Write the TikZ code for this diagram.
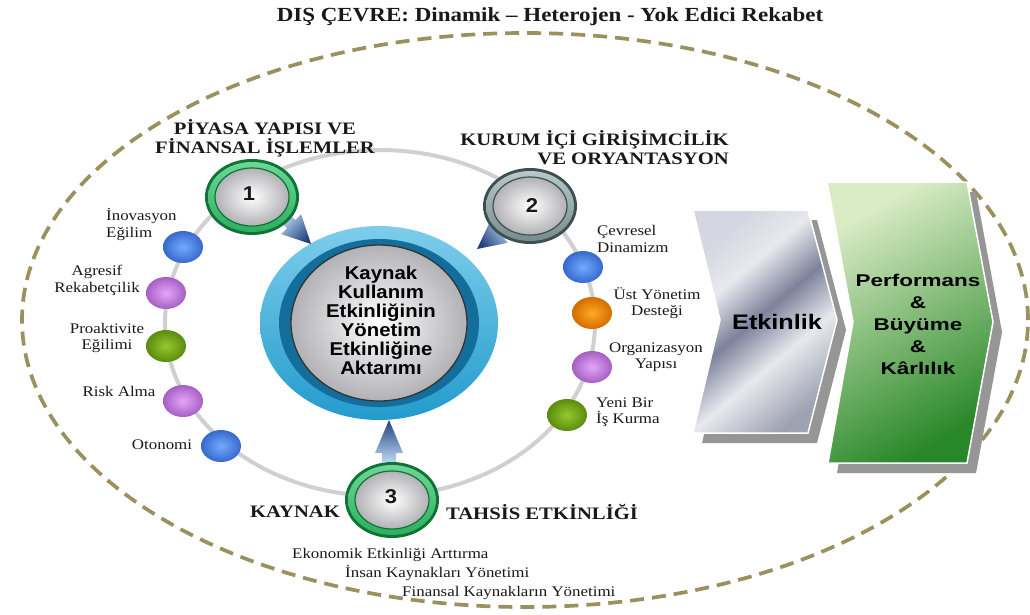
\documentclass[tikz,border=0pt]{standalone}
\usepackage{fontspec}
\setmainfont{Liberation Serif}
\newfontfamily\serifS[FakeStretch=1.15]{Liberation Serif}
\newfontfamily\serifH[FakeStretch=1.18]{Liberation Serif}
\newfontfamily\sansS[FakeStretch=1.10]{Liberation Sans}
\newfontfamily\sansW[FakeStretch=1.2]{Liberation Sans}
\newfontfamily\sansX[FakeStretch=1.32]{Liberation Sans}
\usetikzlibrary{shapes.geometric,calc}
\definecolor{envc}{RGB}{155,145,95}
\definecolor{trackc}{RGB}{208,208,208}
\definecolor{cOut}{RGB}{35,155,205}
\definecolor{cOutL}{RGB}{125,205,235}
\definecolor{cDark}{RGB}{20,110,155}
\definecolor{sphD}{RGB}{178,178,182}
\definecolor{gOut}{RGB}{15,115,55}
\definecolor{gIn}{RGB}{45,175,95}
\definecolor{gInL}{RGB}{110,215,150}
\definecolor{sOut}{RGB}{60,80,82}
\definecolor{sIn}{RGB}{120,140,140}
\definecolor{sInL}{RGB}{185,200,200}
\definecolor{arrD}{RGB}{35,65,125}
\definecolor{arrL}{RGB}{185,215,240}
\definecolor{bBlue}{RGB}{55,105,205}
\definecolor{bBlueL}{RGB}{115,170,255}
\definecolor{bPur}{RGB}{165,95,195}
\definecolor{bPurL}{RGB}{230,165,250}
\definecolor{bGrn}{RGB}{90,140,15}
\definecolor{bGrnL}{RGB}{150,200,45}
\definecolor{bOra}{RGB}{210,110,0}
\definecolor{bOraL}{RGB}{255,170,35}
\definecolor{mL}{RGB}{232,233,238}
\definecolor{mS}{RGB}{212,215,225}
\definecolor{mB}{RGB}{125,130,155}
\definecolor{mD}{RGB}{158,162,178}
\definecolor{grnL}{RGB}{218,236,198}
\definecolor{grnD}{RGB}{40,135,40}
\definecolor{shadowc}{RGB}{150,150,150}
\definecolor{txt}{RGB}{25,25,25}
\pgfdeclareverticalshading{metal}{100bp}{color(0bp)=(mD); color(25bp)=(mD); color(40bp)=(mL); color(52bp)=(mB); color(64bp)=(mL); color(75bp)=(mS); color(100bp)=(mS)}
\tikzset{
  envline/.style={draw=envc, line width=3.7pt, dash pattern=on 14pt off 8pt},
  trackline/.style={draw=trackc, line width=4pt},
  bead/.style={ellipse, minimum width=40pt, minimum height=32pt, inner sep=0pt},
  bblue/.style={bead, inner color=bBlueL, outer color=bBlue},
  bpur/.style={bead, inner color=bPurL, outer color=bPur},
  bgrn/.style={bead, inner color=bGrnL, outer color=bGrn},
  bora/.style={bead, inner color=bOraL, outer color=bOra},
  lbl/.style={font=\serifS\fontsize{14.7}{16.5}\selectfont, align=center, inner sep=0pt, text=txt},
  hdr/.style={font=\serifH\bfseries\fontsize{17.5}{19}\selectfont, inner sep=0pt, text=txt},
  ctext/.style={font=\sansS\bfseries\fontsize{18.5}{19}\selectfont, align=center, inner sep=0pt, text=black},
  numtxt/.style={font=\sansS\bfseries\fontsize{20}{20}\selectfont, inner sep=0pt, text=txt},
  chevshadow/.style={fill=shadowc},
  arrowfill/.style={top color=arrD, bottom color=arrL},
  pics/ringnode/.style n args={3}{code={
    \fill[#1] (0,0) ellipse [x radius=47, y radius=38];
    \shade[top color=#3, bottom color=#2] (0,0) ellipse [x radius=44, y radius=35];
    \shade[inner color=white, outer color=sphD, draw=#1, line width=1.2pt] (0,0) ellipse [x radius=37, y radius=29];
  }},
}
\begin{document}
\begin{tikzpicture}[x=1pt,y=1pt]
\useasboundingbox (0,0) rectangle (1030,-614);
\fill[white] (0,0) rectangle (1030,-614);

% title
\node[font=\serifS\bfseries\fontsize{20}{24}\selectfont, inner sep=0pt, text=txt] (title) at (550,-17) {DIŞ ÇEVRE: Dinamik – Heterojen - Yok Edici Rekabet};

% environment ellipse
\draw[envline] (525,-320) ellipse [x radius=503, y radius=287];

% track
\draw[trackline] (380,-323) ellipse [x radius=215, y radius=173];

% chevrons
\fill[chevshadow] (702,-220) -- (817,-220) -- (846,-330) -- (817,-443) -- (702,-443) -- (729,-330) -- cycle;
\shade[shading=metal, shading angle=40, draw=white, line width=1.5pt] (693,-210) -- (808,-210) -- (837,-320) -- (808,-433) -- (693,-433) -- (720,-320) -- cycle;
\fill[chevshadow] (836,-192) -- (976,-192) -- (1002,-332) -- (976,-473) -- (837,-473) -- (862,-332) -- cycle;
\shade[top color=grnL, bottom color=grnD, shading angle=30, draw=white, line width=1.5pt] (827,-182) -- (967,-182) -- (993,-322) -- (967,-463) -- (828,-463) -- (853,-322) -- cycle;
\node[font=\sansW\bfseries\fontsize{21}{22}\selectfont, inner sep=0pt, text=black] (etk) at (777,-322) {Etkinlik};
\node[font=\sansX\bfseries\fontsize{17}{22}\selectfont, align=center, inner sep=0pt, text=black] (perf) at (918,-324) {Performans\\\&\\Büyüme\\\&\\Kârlılık};

% centre
\coordinate (pc) at (379,-323);
\shade[top color=cOutL, bottom color=cOut] (pc) ellipse [x radius=119, y radius=97];
\fill[cDark] (pc) ellipse [x radius=100, y radius=84];
\shade[inner color=white, outer color=sphD, draw=black!80, line width=1.3pt] (pc) ellipse [x radius=88, y radius=78];
\node[ctext] (c) at (381,-320) {Kaynak\\Kullanım\\Etkinliğinin\\Yönetim\\Etkinliğine\\Aktarımı};

% arrows towards centre
\begin{scope}[shift={(311,-244)}, rotate=-45]
\shade[arrowfill, shading angle=-135] (0,0) -- (-28,14) -- (-28,6) -- (-38,6) -- (-38,-6) -- (-28,-6) -- (-28,-14) -- cycle;
\end{scope}
\begin{scope}[shift={(477,-249)}, rotate=-142]
\shade[arrowfill, shading angle=128] (0,0) -- (-28,14) -- (-28,6) -- (-38,6) -- (-38,-6) -- (-28,-6) -- (-28,-14) -- cycle;
\end{scope}
\begin{scope}[shift={(389,-420)}, rotate=90]
\shade[arrowfill, shading angle=0] (0,0) -- (-33,14) -- (-33,7) -- (-42,7) -- (-42,-7) -- (-33,-7) -- (-33,-14) -- cycle;
\end{scope}

% numbered nodes
\coordinate (p1) at (252,-197);
\coordinate (p2) at (530,-206);
\coordinate (p3) at (392,-500);
\pic at (p1) {ringnode={gOut}{gIn}{gInL}};
\pic at (p2) {ringnode={sOut}{sIn}{sInL}};
\pic at (p3) {ringnode={gOut}{gIn}{gInL}};
\node[numtxt] (n1) at (249,-194) {1};
\node[numtxt] (n2) at (532,-206) {2};
\node[numtxt] (n3) at (391,-497) {3};

% headers
\node[hdr, align=center] (h1) at (265,-138) {PİYASA YAPISI VE\\FİNANSAL İŞLEMLER};
\node[hdr, align=right, anchor=east] (h2) at (729,-148) {KURUM İÇİ GİRİŞİMCİLİK\\VE ORYANTASYON};
\node[hdr] (h3a) at (295,-512) {KAYNAK};
\node[hdr] (h3b) at (542,-512) {TAHSİS ETKİNLİĞİ};

% beads left
\node[bblue] (b1) at (183,-247) {};
\node[bpur] (b2) at (166,-293) {};
\node[bgrn] (b3) at (166,-346) {};
\node[bpur] (b4) at (183,-401) {};
\node[bblue] (b5) at (221,-446) {};
% beads right
\node[bblue] (b6) at (583,-267) {};
\node[bora] (b7) at (592,-313) {};
\node[bpur] (b8) at (592,-367) {};
\node[bgrn] (b9) at (567,-415) {};

% left labels
\node[lbl, align=left, anchor=west] (l1) at (106,-224.5) {İnovasyon\\Eğilim};
\node[lbl] (l2) at (97,-280.5) {Agresif\\Rekabetçilik};
\node[lbl] (l3) at (107,-338) {Proaktivite\\Eğilimi};
\node[lbl] (l4) at (119,-391) {Risk Alma};
\node[lbl] (l5) at (162,-445) {Otonomi};
% right labels
\node[lbl, align=left, anchor=west] (r1) at (597,-239) {Çevresel\\Dinamizm};
\node[lbl] (r2) at (657,-303) {Üst Yönetim\\Desteği};
\node[lbl] (r3) at (656,-357) {Organizasyon\\Yapısı};
\node[lbl, align=left, anchor=west] (r4) at (596,-412) {Yeni Bir\\İş Kurma};

% bottom items
\node[lbl, anchor=west] (e1) at (292,-555) {Ekonomik Etkinliği Arttırma};
\node[lbl, anchor=west] (e2) at (345,-573) {İnsan Kaynakları Yönetimi};
\node[lbl, anchor=west] (e3) at (402,-593) {Finansal Kaynakların Yönetimi};
\end{tikzpicture}
\end{document}
